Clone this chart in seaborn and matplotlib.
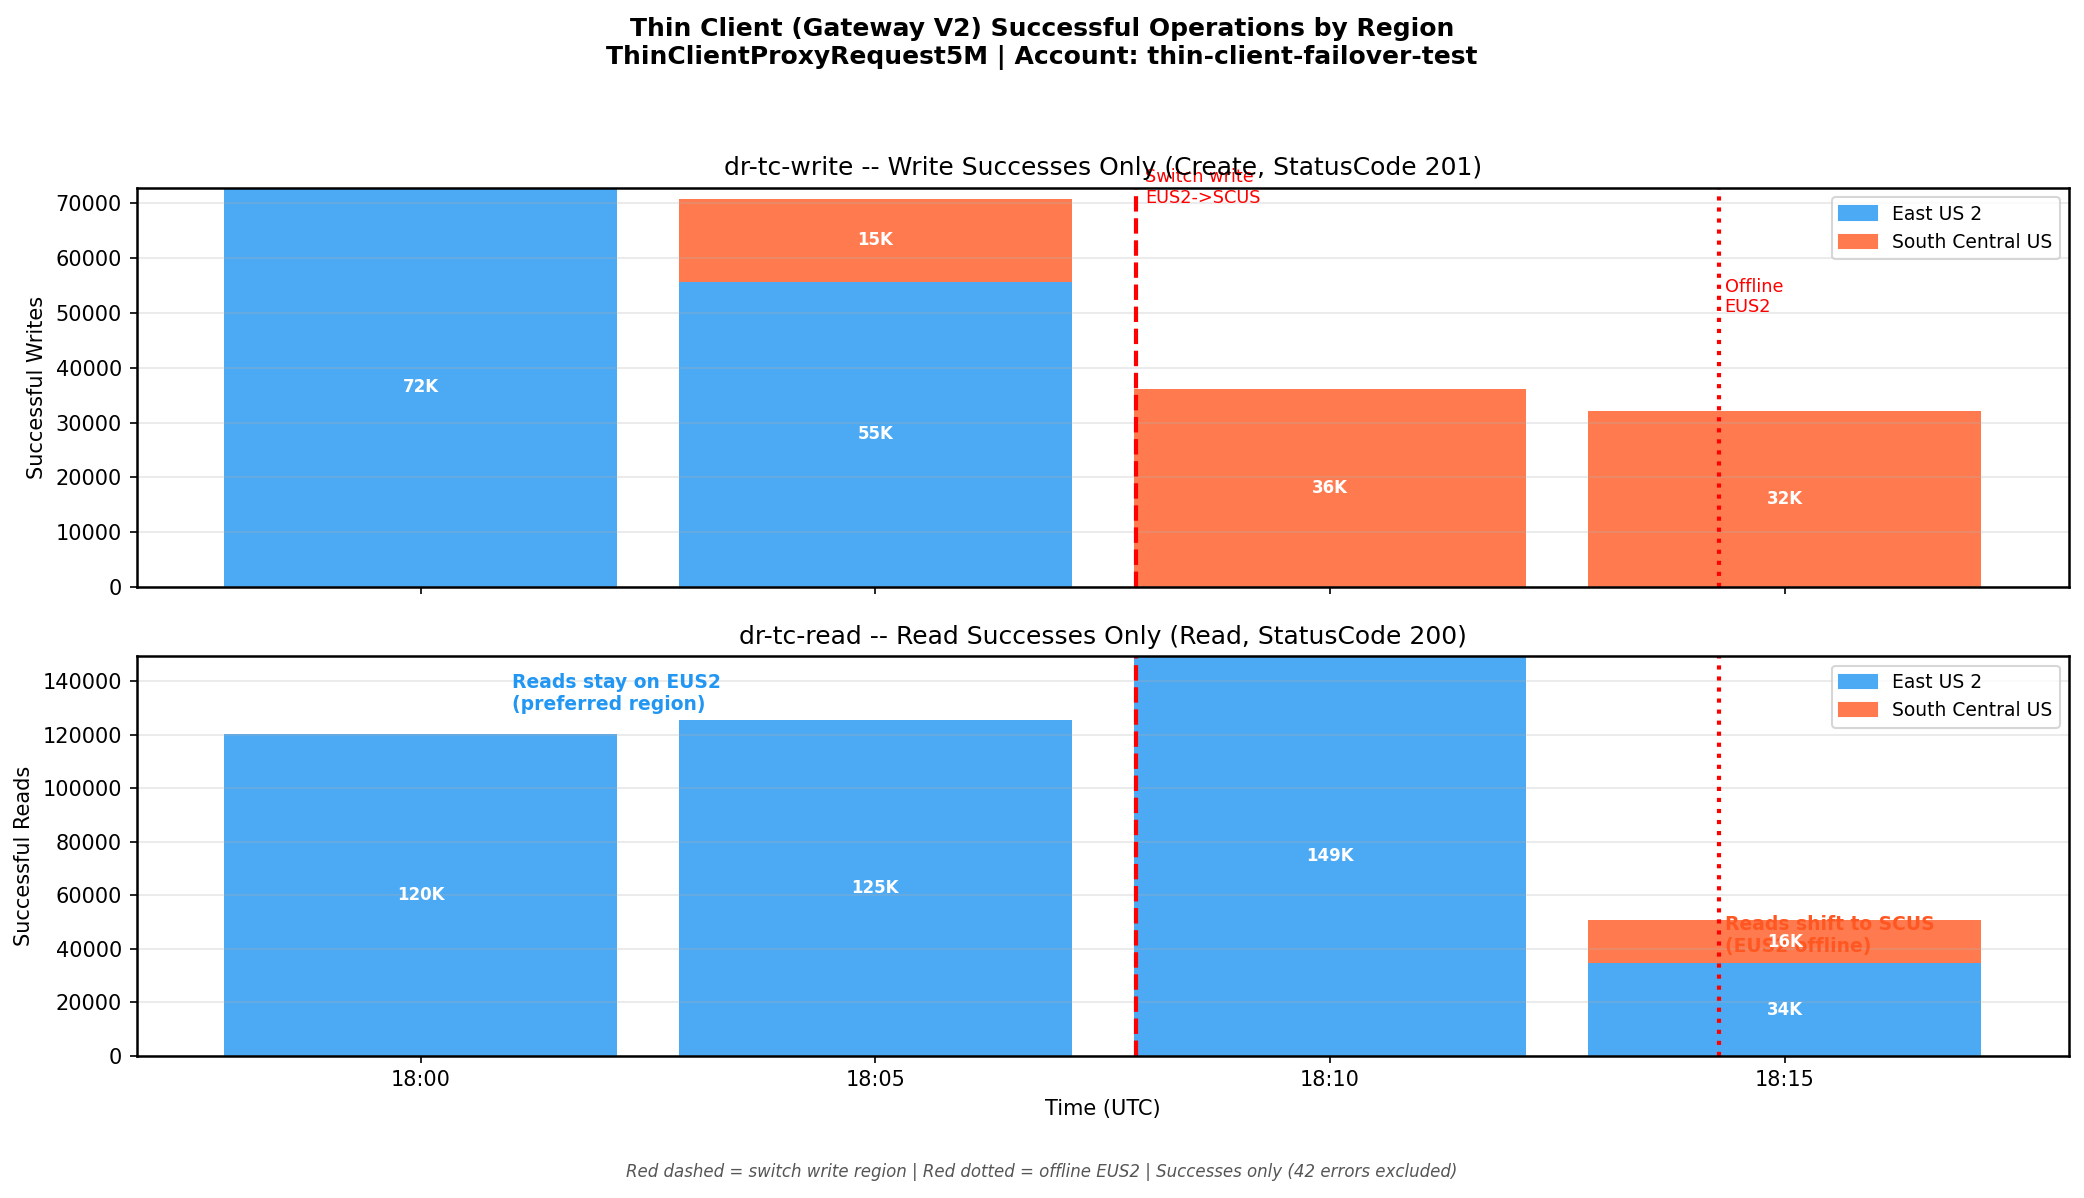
import matplotlib
matplotlib.use("Agg")
import matplotlib.pyplot as plt
from matplotlib.patches import Patch
import seaborn as sns

# time buckets (5 min)
times = ["18:00", "18:05", "18:10", "18:15"]

# successful writes per region
write_eus2 = [72800, 55700, 0, 0]
write_scus = [0, 15100, 36050, 32100]

# successful reads per region
read_eus2 = [120200, 125600, 149400, 34500]
read_scus = [0, 0, 0, 16100]

# events, minutes after 18:00
switch_min = 7.87
offline_min = 14.28

regions = ["East US 2", "South Central US"]
EUS2_COLOR = "#4CAAF4"
SCUS_COLOR = "#FF7B4F"
BAR_WIDTH = 0.864  # 0.003 days expressed in 5-minute buckets

sns.set_style("ticks", {"axes.axisbelow": "line", "axes.edgecolor": "black",
                        "text.color": "black", "axes.labelcolor": "black",
                        "xtick.color": "black", "ytick.color": "black"})
plt.rcParams["font.family"] = ["DejaVu Sans"]
plt.rcParams["axes.linewidth"] = 1.2


def to_pos(minutes):
    return minutes / 5.0


def stacked_panel(ax, eus2, scus, title, ylabel):
    totals = [a + b for a, b in zip(eus2, scus)]
    sns.barplot(x=times, y=totals, color=SCUS_COLOR, width=BAR_WIDTH,
                saturation=1, errorbar=None, linewidth=0, edgecolor="none", ax=ax)
    sns.barplot(x=times, y=eus2, color=EUS2_COLOR, width=BAR_WIDTH,
                saturation=1, errorbar=None, linewidth=0, edgecolor="none", ax=ax)

    for i, (a, b) in enumerate(zip(eus2, scus)):
        if a > 0:
            ax.text(i, a / 2, f"{int(a / 1000)}K", ha="center", va="center",
                    color="white", fontsize=8, fontweight="bold", zorder=5)
        if b > 0:
            ax.text(i, a + b / 2, f"{int(b / 1000)}K", ha="center", va="center",
                    color="white", fontsize=8, fontweight="bold", zorder=5)

    ax.axvline(to_pos(switch_min), color="red", linestyle="--", linewidth=2)
    ax.axvline(to_pos(offline_min), color="red", linestyle=":", linewidth=2)

    span = len(times) - 1 + BAR_WIDTH
    ax.set_xlim(-BAR_WIDTH / 2 - 0.05 * span, len(times) - 1 + BAR_WIDTH / 2 + 0.05 * span)
    ax.set_ylim(0, max(totals))
    ax.grid(axis="y", color="#b0b0b0", alpha=0.3, linewidth=0.8)
    ax.set_title(title, fontsize=12)
    ax.set_ylabel(ylabel)
    ax.set_xlabel("")

    handles = [Patch(color=EUS2_COLOR, label=regions[0]),
               Patch(color=SCUS_COLOR, label=regions[1])]
    ax.legend(handles=handles, loc="upper right", fontsize=9)
    return max(totals)


fig, (ax1, ax2) = plt.subplots(2, 1, figsize=(2084 / 150, 1198 / 150), dpi=150, sharex=True)

wmax = stacked_panel(ax1, write_eus2, write_scus,
                     "dr-tc-write -- Write Successes Only (Create, StatusCode 201)",
                     "Successful Writes")
stacked_panel(ax2, read_eus2, read_scus,
              "dr-tc-read -- Read Successes Only (Read, StatusCode 200)",
              "Successful Reads")

ax1.text(to_pos(switch_min) + 0.02, wmax * 1.05, "Switch write\nEUS2->SCUS",
         color="red", fontsize=8.5, va="top", ha="left")
ax1.text(to_pos(offline_min) + 0.012, wmax * 0.775, "Offline\nEUS2",
         color="red", fontsize=8.5, va="top", ha="left")

ax2.text(0.2, 143000, "Reads stay on EUS2\n(preferred region)",
         color="#2196F3", fontsize=9, fontweight="bold", va="top", ha="left")
ax2.text(to_pos(offline_min) + 0.012, 52500, "Reads shift to SCUS\n(EUS2 offline)",
         color="#FF5722", fontsize=9, fontweight="bold", va="top", ha="left", zorder=4)

ax2.set_xlabel("Time (UTC)")

fig.suptitle("Thin Client (Gateway V2) Successful Operations by Region\n"
             "ThinClientProxyRequest5M | Account: thin-client-failover-test",
             fontsize=12, fontweight="bold", y=0.986, va="top")
fig.text(0.5, 0.022,
         "Red dashed = switch write region | Red dotted = offline EUS2 | Successes only (42 errors excluded)",
         ha="center", va="center", fontsize=8, style="italic", color="#555555")

fig.subplots_adjust(left=0.0655, right=0.9928, top=0.8433, bottom=0.1188, hspace=0.1726)
fig.savefig("out.png", dpi=150)
